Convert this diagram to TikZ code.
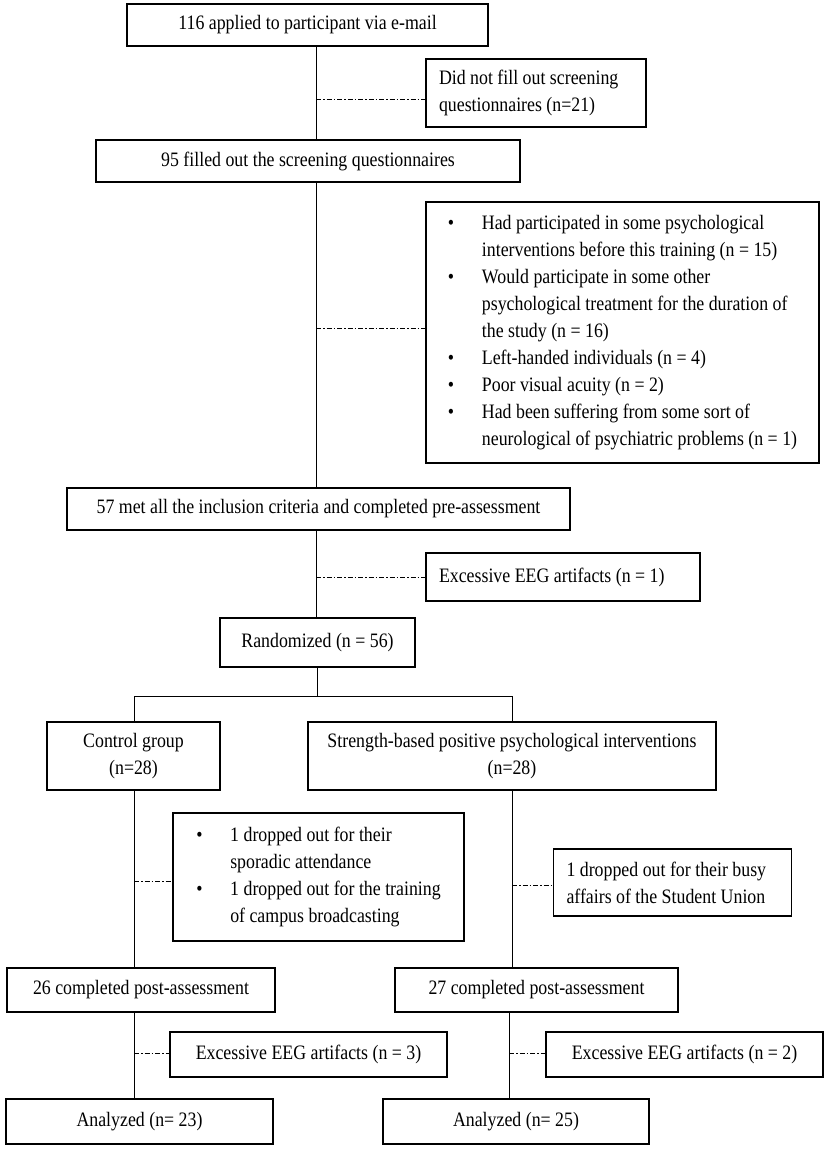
\documentclass[tikz,border=0pt]{standalone}
\usepackage{fontspec}
\setmainfont{Liberation Serif}[FakeStretch=0.87]
\begin{document}
\begin{tikzpicture}[x=1pt,y=-1pt,
  box/.style={draw, line width=1.4pt, inner sep=0pt, align=center, font=\fontsize{20.5}{27}\selectfont},
  lbox/.style={draw, line width=1.4pt, inner xsep=13pt, inner ysep=0pt, align=flush left, text width=#1, font=\fontsize{20.5}{27}\selectfont},
  conn/.style={line width=1pt},
  dd/.style={line width=1pt, dash pattern=on 5pt off 2pt on 1.5pt off 2pt}]
\useasboundingbox[fill=white] (0,0) rectangle (829,1151);

% main column
\node[box, minimum width=361pt, minimum height=42pt] (b1) at (307.5,25) {116 applied to participant via e-mail};
\node[lbox=194pt, minimum height=68pt] (ex1) at (536,93) {Did not fill out screening\\questionnaires (n=21)};
\node[box, minimum width=424pt, minimum height=42pt] (b2) at (308,161) {95 filled out the screening questionnaires};
\node[box, minimum width=393pt, minimum height=261pt] (ex2) at (622.5,332.5) {\begin{tabular}{@{}p{34pt}@{}l@{}}
\textbullet & Had participated in some psychological\\
 & interventions before this training (n = 15)\\
\textbullet & Would participate in some other\\
 & psychological treatment for the duration of\\
 & the study (n = 16)\\
\textbullet & Left-handed individuals (n = 4)\\
\textbullet & Poor visual acuity (n = 2)\\
\textbullet & Had been suffering from some sort of\\
 & neurological of psychiatric problems (n = 1)
\end{tabular}};
\node[box, minimum width=503pt, minimum height=42pt] (b3) at (318.5,509) {57 met all the inclusion criteria and completed pre-assessment};
\node[lbox=248pt, minimum height=48pt] (ex3) at (563,577) {Excessive EEG artifacts (n = 1)};
\node[box, minimum width=195pt, minimum height=49pt] (rand) at (317.5,642.5) {Randomized (n = 56)};

% groups
\node[box, minimum width=173pt, minimum height=68pt] (ctrl) at (133.5,756) {Control group\\(n=28)};
\node[box, minimum width=408pt, minimum height=68pt] (str) at (512,756) {Strength-based positive psychological interventions\\(n=28)};

\node[box, minimum width=291pt, minimum height=128pt] (exL) at (318.5,877) {\begin{tabular}{@{}p{34pt}@{}l@{}}
\textbullet & 1 dropped out for their\\
 & sporadic attendance\\
\textbullet & 1 dropped out for the training\\
 & of campus broadcasting
\end{tabular}};
\node[lbox=212pt, minimum height=67pt] (exR) at (672.5,882.5) {1 dropped out for their busy\\affairs of the Student Union};

\node[box, minimum width=268pt, minimum height=44pt] (c26) at (141,990) {26 completed post-assessment};
\node[box, minimum width=283pt, minimum height=44pt] (c27) at (536.5,990) {27 completed post-assessment};
\node[box, minimum width=277pt, minimum height=45pt] (ex26) at (308.5,1054.5) {Excessive EEG artifacts (n = 3)};
\node[box, minimum width=277pt, minimum height=45pt] (ex27) at (684.5,1054.5) {Excessive EEG artifacts (n = 2)};
\node[box, minimum width=267pt, minimum height=45pt] (an23) at (139.5,1121.5) {Analyzed (n= 23)};
\node[box, minimum width=266pt, minimum height=45pt] (an25) at (516,1121.5) {Analyzed (n= 25)};

% column guides
\coordinate (m) at (316,0);
\coordinate (L) at (134,0);
\coordinate (R) at (512,0);
\coordinate (R2) at (509,0);
\coordinate (sp) at (317,696);
\coordinate (d1) at (316,99);
\coordinate (d2) at (316,328);
\coordinate (d3) at (316,577);
\coordinate (dL) at (134,881);
\coordinate (dR) at (512,885);
\coordinate (dL2) at (134,1053);
\coordinate (dR2) at (509,1053);

% connectors
\draw[conn] (b1.south -| m) -- (b2.north -| m);
\draw[conn] (b2.south -| m) -- (b3.north -| m);
\draw[conn] (b3.south -| m) -- (rand.north -| m);
\draw[conn] (rand.south -| sp) -- (sp);
\draw[conn] (ctrl.north -| L) -- (L |- sp) -- (R |- sp) -- (str.north -| R);
\draw[conn] (ctrl.south -| L) -- (c26.north -| L);
\draw[conn] (c26.south -| L) -- (an23.north -| L);
\draw[conn] (str.south -| R) -- (c27.north -| R);
\draw[conn] (c27.south -| R2) -- (an25.north -| R2);

\draw[dd] (d1) -- (d1 -| ex1.west);
\draw[dd] (d2) -- (d2 -| ex2.west);
\draw[dd] (d3) -- (d3 -| ex3.west);
\draw[dd] (dL) -- (dL -| exL.west);
\draw[dd] (dR) -- (dR -| exR.west);
\draw[dd] (dL2) -- (dL2 -| ex26.west);
\draw[dd] (dR2) -- (dR2 -| ex27.west);
\end{tikzpicture}
\end{document}
